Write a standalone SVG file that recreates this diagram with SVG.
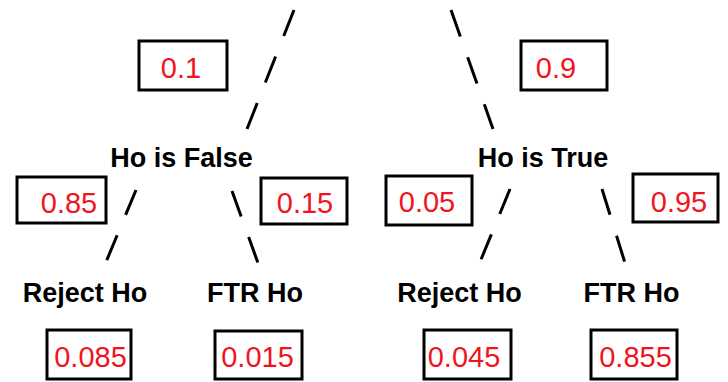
<svg xmlns="http://www.w3.org/2000/svg" width="728" height="382" viewBox="0 0 728 382">
<defs>
<style>
.box{fill:#fff;stroke:#000;stroke-width:3}
.num{font-family:"Liberation Sans",Arial,sans-serif;font-size:29px;fill:#f0141e;text-anchor:middle}
.lbl{font-family:"Liberation Sans",Arial,sans-serif;font-size:27px;font-weight:bold;fill:#000;text-anchor:middle}
.edge{stroke:#000;stroke-width:3;fill:none}
</style>
</defs>
<rect width="728" height="382" fill="#fff"/>
<g id="connectors">
<line class="edge" x1="294" y1="10" x2="247" y2="129" stroke-dasharray="28 22"/>
<line class="edge" x1="451" y1="10" x2="493" y2="129" stroke-dasharray="28 22"/>
<line class="edge" x1="136" y1="190" x2="106" y2="262" stroke-dasharray="27 22"/>
<line class="edge" x1="232" y1="191" x2="258" y2="263" stroke-dasharray="27 22"/>
<line class="edge" x1="510" y1="189" x2="480" y2="262" stroke-dasharray="27 22"/>
<line class="edge" x1="602" y1="189" x2="625" y2="263" stroke-dasharray="27 22"/>
</g>
<g id="p01"><rect class="box" x="139" y="41" width="88" height="49"/><text class="num" x="181" y="78">0.1</text></g>
<g id="p09"><rect class="box" x="521" y="41" width="86" height="49"/><text class="num" x="556" y="78">0.9</text></g>
<g id="hoFalse"><text class="lbl" x="181.5" y="167">Ho is False</text></g>
<g id="hoTrue"><text class="lbl" x="543" y="167">Ho is True</text></g>
<g id="p085"><rect class="box" x="17" y="177" width="89" height="46"/><text class="num" x="69" y="213">0.85</text></g>
<g id="p015"><rect class="box" x="261" y="178" width="86" height="46"/><text class="num" x="305" y="213">0.15</text></g>
<g id="p005"><rect class="box" x="386" y="176" width="86" height="49"/><text class="num" x="427" y="212">0.05</text></g>
<g id="p095"><rect class="box" x="633" y="174" width="85" height="48"/><text class="num" x="679" y="212">0.95</text></g>
<g id="rejectF"><text class="lbl" x="85" y="302">Reject Ho</text></g>
<g id="ftrF"><text class="lbl" x="255" y="302">FTR Ho</text></g>
<g id="rejectT"><text class="lbl" x="459.5" y="302">Reject Ho</text></g>
<g id="ftrT"><text class="lbl" x="631.5" y="302">FTR Ho</text></g>
<g id="r0085"><rect class="box" x="47" y="330" width="84" height="49"/><text class="num" x="90.5" y="367">0.085</text></g>
<g id="r0015"><rect class="box" x="215" y="331" width="87" height="48"/><text class="num" x="257.5" y="367">0.015</text></g>
<g id="r0045"><rect class="box" x="424" y="330" width="87" height="49"/><text class="num" x="464" y="367">0.045</text></g>
<g id="r0855"><rect class="box" x="591" y="330" width="86" height="49"/><text class="num" x="635.5" y="367">0.855</text></g>
</svg>
